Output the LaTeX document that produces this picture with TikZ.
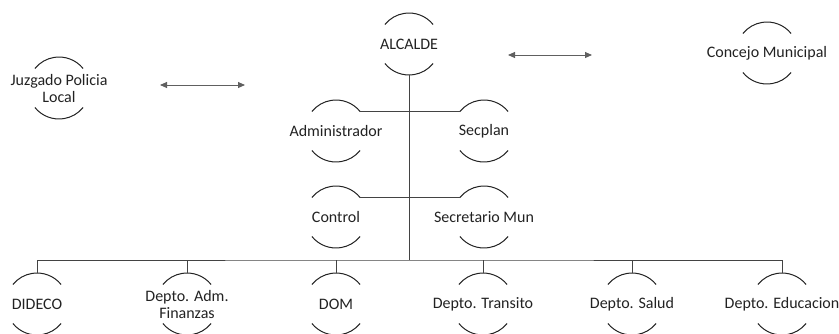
\documentclass[tikz,border=0pt]{standalone}
\usepackage{fontspec}
\setmainfont{Carlito}
\usetikzlibrary{arrows.meta}
\definecolor{ink}{HTML}{222222}
\definecolor{arrowgray}{HTML}{606060}
\tikzset{
  orgnode/.style={inner sep=0pt, align=center, text=ink, font=\fontsize{16}{17}\selectfont},
  arcline/.style={draw=ink, line width=1pt},
  link/.style={draw=ink!85, line width=0.8pt},
  dblarrow/.style={draw=arrowgray, line width=0.9pt, {Triangle[length=7pt,width=6pt]}-{Triangle[length=7pt,width=6pt]}}
}
\newcommand\nodearcs[1]{%
  \draw[arcline] ([shift={(39:31pt)}]#1.center) arc[start angle=39,end angle=141,radius=31pt];
  \draw[arcline] ([shift={(219:31pt)}]#1.center) arc[start angle=219,end angle=321,radius=31pt];
  \coordinate (#1-t) at ([yshift=31pt]#1.center);
  \coordinate (#1-b) at ([yshift=-31pt]#1.center);
  \coordinate (#1-tr) at ([shift={(39:31pt)}]#1.center);
  \coordinate (#1-tl) at ([shift={(141:31pt)}]#1.center);
}
\begin{document}
\begin{tikzpicture}[x=1pt,y=-1pt]
\useasboundingbox (0,0) rectangle (839,333);
% nodes
\node[orgnode] (juz) at (59,88) {Juzgado Policia\\Local};
\node[orgnode] (alc) at (409,44) {ALCALDE};
\node[orgnode] (con) at (767,53) {Concejo Municipal};
\node[orgnode] (adm) at (336,131) {Administrador};
\node[orgnode] (sec) at (484,131) {Secplan};
\node[orgnode] (ctl) at (336,217) {Control};
\node[orgnode] (smun) at (484,217) {Secretario Mun};
\node[orgnode] (did) at (37,304) {DIDECO};
\node[orgnode] (fin) at (187,304) {Depto. Adm.\\Finanzas};
\node[orgnode] (dom) at (336,304) {DOM};
\node[orgnode] (tra) at (483,304) {Depto. Transito};
\node[orgnode] (sal) at (632,304) {Depto. Salud};
\node[orgnode] (edu) at (782,304) {Depto. Educacion};
\foreach \n in {juz,alc,con,adm,sec,ctl,smun,did,fin,dom,tra,sal,edu}{\nodearcs{\n}}
% connectors
\coordinate (bus) at (409,260);
\draw[link] (alc-b) -- (bus);
\draw[link] (adm-tr) -- (sec-tl);
\draw[link] (ctl-tr) -- (smun-tl);
\draw[link] (did-t) |- (bus) -| (edu-t);
\foreach \n in {fin,dom,tra,sal}{\draw[link] (\n-t) -- (\n-t |- bus);}
% arrows
\coordinate (la1) at (160,85);
\coordinate (la2) at (245,85);
\coordinate (ra1) at (508,55);
\coordinate (ra2) at (592,55);
\draw[dblarrow] (la1) -- (la2);
\draw[dblarrow] (ra1) -- (ra2);
\end{tikzpicture}
\end{document}
